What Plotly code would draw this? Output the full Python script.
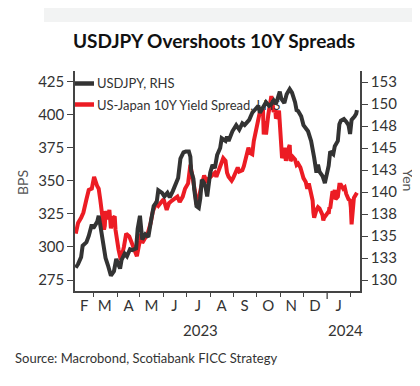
import plotly.graph_objects as go
from datetime import datetime

# ---------------- data ----------------
usdjpy_dates = ["2023-02-06","2023-02-09","2023-02-13","2023-02-15","2023-02-20","2023-02-23","2023-02-27",
 "2023-03-01","2023-03-06","2023-03-08","2023-03-10","2023-03-13","2023-03-15","2023-03-17","2023-03-20",
 "2023-03-23","2023-03-24","2023-03-28","2023-03-31","2023-04-03","2023-04-05","2023-04-07","2023-04-11",
 "2023-04-14","2023-04-18","2023-04-21","2023-04-26","2023-04-28","2023-05-01","2023-05-02","2023-05-04",
 "2023-05-08","2023-05-12","2023-05-16","2023-05-19","2023-05-23","2023-05-25","2023-05-30","2023-06-02",
 "2023-06-06","2023-06-09","2023-06-13","2023-06-16","2023-06-20","2023-06-23","2023-06-27","2023-06-30",
 "2023-07-04","2023-07-06","2023-07-07","2023-07-10","2023-07-11","2023-07-14","2023-07-17","2023-07-19",
 "2023-07-21","2023-07-24","2023-07-26","2023-07-28","2023-08-01","2023-08-04","2023-08-07","2023-08-10",
 "2023-08-14","2023-08-16","2023-08-21","2023-08-23","2023-08-25","2023-08-30","2023-09-04","2023-09-08",
 "2023-09-12","2023-09-15","2023-09-21","2023-09-25","2023-09-29","2023-10-03","2023-10-05","2023-10-09",
 "2023-10-13","2023-10-17","2023-10-20","2023-10-23","2023-10-26","2023-10-31","2023-11-02","2023-11-06",
 "2023-11-09","2023-11-13","2023-11-16","2023-11-20","2023-11-22","2023-11-24","2023-11-28","2023-12-01",
 "2023-12-04","2023-12-07","2023-12-11","2023-12-13","2023-12-15","2023-12-18","2023-12-20","2023-12-22",
 "2023-12-26","2023-12-28","2023-12-29","2024-01-03","2024-01-05","2024-01-09","2024-01-11","2024-01-15",
 "2024-01-17","2024-01-19","2024-01-23","2024-01-26","2024-01-29","2024-01-31","2024-02-02","2024-02-06",
 "2024-02-08","2024-02-09"]
usdjpy_values = [131.4,131.8,132.6,133.9,134.3,135.0,136.3,
 135.9,136.6,137.3,136.3,134.8,134.0,132.5,131.7,
 130.8,130.5,131.0,132.4,131.7,131.3,132.3,133.0,
 132.7,133.5,133.4,133.6,135.8,137.3,136.4,134.6,
 135.2,134.9,137.0,138.4,138.9,140.2,139.9,139.5,
 139.9,139.4,140.1,140.8,141.6,143.8,144.5,144.6,
 144.6,144.0,142.4,141.5,140.3,138.4,138.2,139.3,
 141.4,141.0,140.5,139.5,142.2,143.1,142.7,144.2,
 145.0,146.1,145.8,146.3,145.8,146.9,147.6,147.1,
 147.8,147.6,148.2,149.0,149.4,149.8,149.0,149.5,
 150.2,149.8,150.0,150.4,150.0,151.4,150.6,150.1,
 151.1,151.7,151.3,150.2,149.3,149.2,148.6,147.6,
 147.3,146.9,145.8,145.0,143.9,142.2,143.1,142.3,
 141.8,141.3,141.0,143.0,144.6,144.3,145.2,145.8,
 147.7,148.1,148.3,148.0,147.6,146.6,148.2,148.6,
 148.9,149.3]

spread_dates = ["2023-02-06","2023-02-09","2023-02-13","2023-02-16","2023-02-20","2023-02-23","2023-02-27",
 "2023-03-01","2023-03-02","2023-03-06","2023-03-08","2023-03-10","2023-03-13","2023-03-15","2023-03-16",
 "2023-03-17","2023-03-20","2023-03-22","2023-03-24","2023-03-27","2023-03-29","2023-03-30","2023-04-03",
 "2023-04-05","2023-04-06","2023-04-10","2023-04-13","2023-04-17","2023-04-20","2023-04-24","2023-04-27",
 "2023-05-01","2023-05-02","2023-05-04","2023-05-08","2023-05-11","2023-05-15","2023-05-18","2023-05-22",
 "2023-05-25","2023-05-29","2023-06-01","2023-06-05","2023-06-08","2023-06-12","2023-06-15","2023-06-19",
 "2023-06-22","2023-06-26","2023-06-29","2023-07-03","2023-07-06","2023-07-07","2023-07-10","2023-07-12",
 "2023-07-14","2023-07-17","2023-07-20","2023-07-24","2023-07-27","2023-07-31","2023-08-03","2023-08-07",
 "2023-08-09","2023-08-14","2023-08-16","2023-08-18","2023-08-21","2023-08-23","2023-08-25","2023-08-29",
 "2023-08-31","2023-09-04","2023-09-06","2023-09-08","2023-09-12","2023-09-14","2023-09-18","2023-09-20",
 "2023-09-22","2023-09-25","2023-09-27","2023-09-29","2023-10-02","2023-10-03","2023-10-05","2023-10-09",
 "2023-10-10","2023-10-12","2023-10-13","2023-10-16","2023-10-18","2023-10-19","2023-10-20","2023-10-23",
 "2023-10-25","2023-10-26","2023-10-27","2023-10-30","2023-10-31","2023-11-02","2023-11-03","2023-11-06",
 "2023-11-08","2023-11-10","2023-11-13","2023-11-14","2023-11-17","2023-11-20","2023-11-22","2023-11-24",
 "2023-11-27","2023-11-29","2023-12-01","2023-12-04","2023-12-06","2023-12-08","2023-12-11","2023-12-13",
 "2023-12-14","2023-12-15","2023-12-18","2023-12-20","2023-12-22","2023-12-26","2023-12-27","2023-12-28",
 "2024-01-02","2024-01-03","2024-01-04","2024-01-05","2024-01-08","2024-01-10","2024-01-11","2024-01-12",
 "2024-01-15","2024-01-17","2024-01-19","2024-01-22","2024-01-24","2024-01-26","2024-01-29","2024-01-31",
 "2024-02-01","2024-02-02","2024-02-05","2024-02-07","2024-02-09"]
spread_values = [310,318,322,326,336,343,344,
 350,353,346,344,336,321,313,316,
 327,321,328,314,322,323,313,298,
 291,290,300,310,308,303,298,293,
 305,310,303,308,310,318,327,333,
 331,334,336,328,333,335,336,338,
 334,338,344,348,362,359,350,342,
 332,337,345,354,350,352,354,356,
 353,360,364,367,365,356,353,350,
 352,358,360,357,358,361,369,375,
 371,370,380,386,393,398,402,404,
 385,395,385,400,408,412,414,402,
 404,397,398,403,392,377,367,375,
 365,372,377,365,368,366,362,363,
 360,356,352,349,344,348,340,335,
 326,322,328,330,329,324,320,322,
 326,325,330,329,342,340,343,336,
 338,347,347,344,345,340,336,335,
 330,317,337,340,341]

left_ticks = [275, 300, 325, 350, 375, 400, 425]
right_ticks = [130, 132.5, 135, 137.5, 140, 142.5, 145, 147.5, 150, 152.5]
right_tick_labels = ["130", "133", "135", "138", "140", "143", "145", "148", "150", "153"]
month_label_dates = ["2023-02-17","2023-03-16","2023-04-16","2023-05-16","2023-06-15","2023-07-16",
                     "2023-08-16","2023-09-15","2023-10-16","2023-11-15","2023-12-16","2024-01-16"]
month_labels = ["F","M","A","M","J","J","A","S","O","N","D","J"]
month_starts = ["2023-03-01","2023-04-01","2023-05-01","2023-06-01","2023-07-01","2023-08-01",
                "2023-09-01","2023-10-01","2023-11-01","2023-12-01","2024-02-01"]
year_labels = ["2023", "2024"]
year_label_dates = ["2023-07-19", "2024-01-25"]
year_boundary = "2024-01-01"

x_start, x_end = "2023-02-05", "2024-02-13"

BLACK = "#333333"
RED = "#ec1c24"
FONT = "Lato"
TXT = "#333333"

fig = go.Figure()
fig.add_trace(go.Scatter(x=spread_dates, y=spread_values, mode="lines", yaxis="y",
                         line=dict(color=RED, width=4), name="US-Japan 10Y Yield Spread, LHS",
                         showlegend=False))
fig.add_trace(go.Scatter(x=usdjpy_dates, y=usdjpy_values, mode="lines", yaxis="y2",
                         line=dict(color=BLACK, width=4), name="USDJPY, RHS",
                         showlegend=False))

W, H = 420, 386
L, R, T, B = 67, 352, 63, 283
pw, ph = R - L, B - T

def px2paper_x(px):
    return (px - L) / pw

def px2paper_y(py):
    return (B - py) / ph

d0 = datetime.fromisoformat(x_start)
d1 = datetime.fromisoformat(x_end)
def date2paper(s):
    d = datetime.fromisoformat(s)
    return (d - d0).total_seconds() / (d1 - d0).total_seconds()

shapes = []
# top grey band
shapes.append(dict(type="rect", xref="paper", yref="paper",
                   x0=px2paper_x(36), x1=px2paper_x(407), y0=px2paper_y(14), y1=px2paper_y(0),
                   fillcolor="#f2f3f3", line=dict(width=0), layer="below"))
# long tick at the year boundary
xb = date2paper(year_boundary)
shapes.append(dict(type="line", xref="paper", yref="paper", x0=xb, x1=xb,
                   y0=0, y1=px2paper_y(291), line=dict(color="#444444", width=1.3)))
# legend swatches
shapes.append(dict(type="line", xref="paper", yref="paper", x0=px2paper_x(67), x1=px2paper_x(86),
                   y0=px2paper_y(75.5), y1=px2paper_y(75.5), line=dict(color=BLACK, width=4.5)))
shapes.append(dict(type="line", xref="paper", yref="paper", x0=px2paper_x(67), x1=px2paper_x(86),
                   y0=px2paper_y(96.5), y1=px2paper_y(96.5), line=dict(color=RED, width=4.5)))

annotations = []
annotations.append(dict(text="<b>USDJPY Overshoots 10Y Spreads</b>", xref="paper", yref="paper",
                        x=px2paper_x(206), y=px2paper_y(33), xanchor="center", yanchor="middle",
                        showarrow=False, font=dict(family=FONT, size=19, color="#111111")))
annotations.append(dict(text="USDJPY, RHS", xref="paper", yref="paper",
                        x=px2paper_x(87), y=px2paper_y(75.5), xanchor="left", yanchor="middle",
                        showarrow=False, font=dict(family=FONT, size=13, color=TXT)))
annotations.append(dict(text="US-Japan 10Y Yield Spread, LHS", xref="paper", yref="paper",
                        x=px2paper_x(87), y=px2paper_y(96.5), xanchor="left", yanchor="middle",
                        showarrow=False, font=dict(family=FONT, size=13, color=TXT)))
annotations.append(dict(text="BPS", xref="paper", yref="paper", x=px2paper_x(14), y=px2paper_y(175),
                        xanchor="center", yanchor="middle", textangle=-90, showarrow=False,
                        font=dict(family=FONT, size=14, color="#555555")))
annotations.append(dict(text="Yen", xref="paper", yref="paper", x=px2paper_x(401), y=px2paper_y(172),
                        xanchor="center", yanchor="middle", textangle=90, showarrow=False,
                        font=dict(family=FONT, size=14, color="#555555")))
for t, d in zip(year_labels, year_label_dates):
    annotations.append(dict(text=t, xref="paper", yref="paper", x=date2paper(d), y=px2paper_y(322),
                            xanchor="center", yanchor="middle", showarrow=False,
                            font=dict(family=FONT, size=15, color=TXT)))
annotations.append(dict(text="Source: Macrobond, Scotiabank FICC Strategy", xref="paper", yref="paper",
                        x=px2paper_x(5), y=px2paper_y(350), xanchor="left", yanchor="middle",
                        showarrow=False, font=dict(family=FONT, size=13, color=TXT)))

fig.update_layout(
    width=W, height=H,
    margin=dict(l=L, r=W - R, t=T, b=H - B, pad=0),
    paper_bgcolor="white", plot_bgcolor="white",
    showlegend=False,
    shapes=shapes, annotations=annotations,
    xaxis=dict(type="date", range=[x_start, x_end], showgrid=False, zeroline=False,
               showline=True, linecolor="#444444", linewidth=1.5,
               tickmode="array", tickvals=month_label_dates, ticktext=month_labels,
               ticks="", ticklen=0, tickfont=dict(family=FONT, size=15, color=TXT),
               minor=dict(tickmode="array", tickvals=month_starts, ticks="outside", ticklen=4,
                          tickcolor="#444444", tickwidth=1.2, showgrid=False)),
    yaxis=dict(range=[266.7, 432.9], showgrid=False, zeroline=False,
               showline=True, linecolor="#444444", linewidth=1.5,
               tickmode="array", tickvals=left_ticks, ticks="outside", ticklen=6,
               tickcolor="#444444", tickwidth=1.2,
               tickfont=dict(family=FONT, size=15, color=TXT)),
    yaxis2=dict(range=[128.75, 153.75], overlaying="y", side="right", showgrid=False, zeroline=False,
                showline=True, linecolor="#444444", linewidth=1.5,
                tickmode="array", tickvals=right_ticks, ticktext=right_tick_labels,
                ticks="outside", ticklen=6, tickcolor="#444444", tickwidth=1.2,
                tickfont=dict(family=FONT, size=15, color=TXT)),
)

fig.write_html("out.html")
